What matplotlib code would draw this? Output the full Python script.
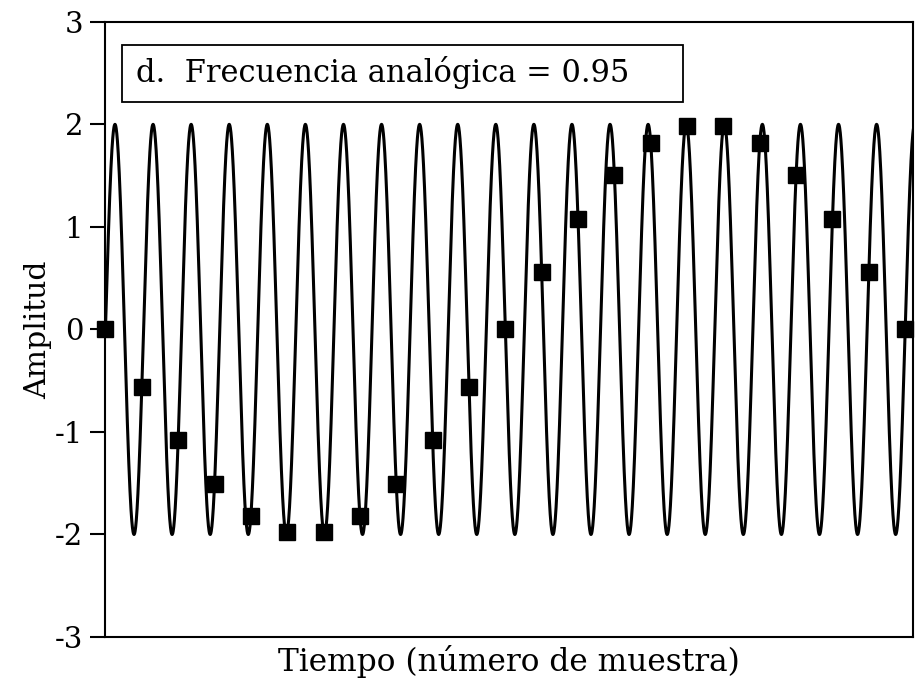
"""
Aliasing example: analog sine at 0.95 of the sampling rate and its samples.
Writes out.png (921x684).
"""

import matplotlib
matplotlib.use("Agg")
import matplotlib.pyplot as plt
from matplotlib.patches import Rectangle
import numpy as np

# analog signal as labelled on the chart (21 cycles over 22 samples)
ANALOG_FREQ = 21 / 22
ANALOG_AMP = 2.0

sample_n = list(range(23))
sample_vals = [0.0, -0.56, -1.08, -1.51, -1.82, -1.98, -1.98, -1.82, -1.51, -1.08,
               -0.56, 0.0, 0.56, 1.08, 1.51, 1.82, 1.98, 1.98, 1.82, 1.51, 1.08,
               0.56, 0.0]

y_ticks = [-3, -2, -1, 0, 1, 2, 3]
title_text = "d.  Frecuencia analógica = 0.95"
x_label = "Tiempo (número de muestra)"
y_label = "Amplitud"

plt.rcParams["font.family"] = ["DejaVu Serif"]

fig = plt.figure(figsize=(9.21, 6.84), dpi=100)
ax = fig.add_axes([0.1145, 0.0687, 0.877, 0.8994])

t = np.linspace(0, 22.3, 4000)
ax.plot(t, ANALOG_AMP * np.sin(2 * np.pi * ANALOG_FREQ * t), color="black",
        lw=2.2, zorder=2)
ax.plot(sample_n, sample_vals, ls="none", marker="s", ms=11, color="black",
        zorder=3, clip_on=False)

ax.set_xlim(0, 22.22)
ax.set_ylim(-3, 3)
ax.set_xticks([])
ax.set_yticks(y_ticks)
ax.set_yticklabels([str(v) for v in y_ticks])
ax.tick_params(axis="y", direction="out", length=11, width=1.5, labelsize=21,
               pad=5)
for sp in ax.spines.values():
    sp.set_linewidth(1.5)

ax.set_xlabel(x_label, fontsize=22.5, labelpad=6)
ax.set_ylabel(y_label, fontsize=21.5, labelpad=2)

# label box is wider than its text in the original
ax.add_patch(Rectangle((0.0204, 0.870), 0.6946, 0.0926, transform=ax.transAxes,
                       fc="white", ec="black", lw=1.3, zorder=4))
ax.text(0.0378, 0.917, title_text, transform=ax.transAxes, fontsize=22,
        va="center", ha="left", zorder=5)

fig.savefig("out.png", dpi=100)
